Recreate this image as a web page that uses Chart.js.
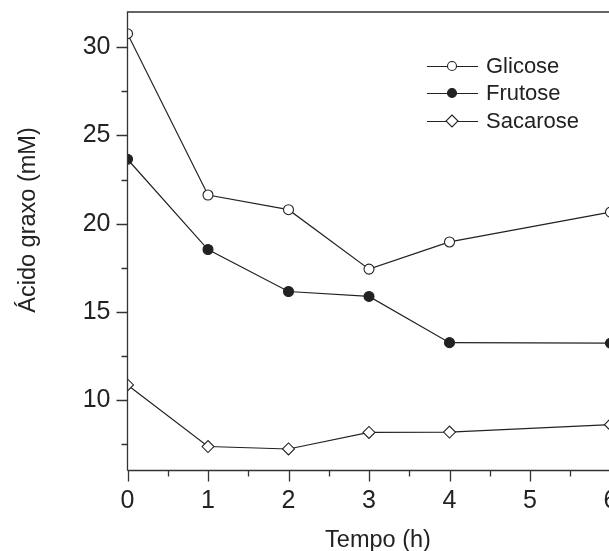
<!DOCTYPE html>
<html>
<head>
<meta charset="utf-8">
<script src="https://cdn.jsdelivr.net/npm/chart.js@4/dist/chart.umd.min.js"></script>
<style>
  html, body { margin: 0; padding: 0; background: #fff; overflow: hidden; }
  #wrap { width: 640px; height: 551px; position: relative; }
</style>
</head>
<body>
<div id="wrap"><canvas id="chart" width="640" height="551"></canvas></div>
<script>
// data
const tempo = [0, 1, 2, 3, 4, 6];
const glicose = [30.77, 21.62, 20.79, 17.42, 18.96, 20.65];
const frutose = [23.65, 18.53, 16.15, 15.87, 13.25, 13.22];
const sacarose = [10.85, 7.36, 7.22, 8.16, 8.18, 8.6];

const xTicks = [0, 1, 2, 3, 4, 5, 6];
const xMinor = [0.5, 1.5, 2.5, 3.5, 4.5, 5.5];
const yTicks = [10, 15, 20, 25, 30];
const yMinor = [7.5, 12.5, 17.5, 22.5, 27.5];

const seriesNames = ["Glicose", "Frutose", "Sacarose"];
const FONT = "'Liberation Sans', Arial, sans-serif";
const INK = "#222";

function toPoints(ys) {
  return ys.map((y, i) => ({ x: tempo[i], y: y }));
}

// frame, minor ticks, axis titles and the legend
const decorations = {
  id: "decorations",
  afterDraw(chart) {
    const ctx = chart.ctx;
    const a = chart.chartArea;
    const xs = chart.scales.x;
    const ys = chart.scales.y;
    ctx.save();
    ctx.strokeStyle = "#333";
    ctx.lineWidth = 1.3;
    ctx.beginPath();
    ctx.moveTo(a.left, a.bottom);
    ctx.lineTo(a.left, a.top);
    ctx.lineTo(a.right + 40, a.top);
    ctx.moveTo(a.left, a.bottom);
    ctx.lineTo(a.right + 40, a.bottom);
    // major ticks
    xTicks.forEach(v => {
      const px = Math.round(xs.getPixelForValue(v)) + 0.5;
      ctx.moveTo(px, a.bottom);
      ctx.lineTo(px, a.bottom + 11);
    });
    yTicks.forEach(v => {
      const py = Math.round(ys.getPixelForValue(v)) + 0.5;
      ctx.moveTo(a.left, py);
      ctx.lineTo(a.left - 11, py);
    });
    // minor ticks
    xMinor.forEach(v => {
      const px = Math.round(xs.getPixelForValue(v)) + 0.5;
      ctx.moveTo(px, a.bottom);
      ctx.lineTo(px, a.bottom + 6);
    });
    yMinor.forEach(v => {
      const py = Math.round(ys.getPixelForValue(v)) + 0.5;
      ctx.moveTo(a.left, py);
      ctx.lineTo(a.left - 6, py);
    });
    ctx.stroke();

    // axis titles
    ctx.fillStyle = INK;
    ctx.font = "23.5px " + FONT;
    ctx.textAlign = "center";
    ctx.textBaseline = "alphabetic";
    ctx.fillText("Tempo (h)", 378, 547);
    ctx.save();
    ctx.translate(35, 220);
    ctx.rotate(-Math.PI / 2);
    ctx.fillText("Ácido graxo (mM)", 0, 0);
    ctx.restore();

    // legend
    const rows = [66, 93, 121];
    chart.data.datasets.forEach((ds, i) => {
      const y = rows[i];
      ctx.strokeStyle = INK;
      ctx.lineWidth = 1.2;
      ctx.beginPath();
      ctx.moveTo(427, y + 0.5);
      ctx.lineTo(478, y + 0.5);
      ctx.stroke();
      ctx.lineWidth = 1.1;
      ctx.fillStyle = ds.pointBackgroundColor;
      ctx.beginPath();
      if (ds.pointStyle === "rectRot") {
        ctx.moveTo(452, y - 6);
        ctx.lineTo(458, y);
        ctx.lineTo(452, y + 6);
        ctx.lineTo(446, y);
        ctx.closePath();
      } else {
        ctx.arc(452, y, 4.5, 0, Math.PI * 2);
      }
      ctx.fill();
      ctx.stroke();
      ctx.fillStyle = INK;
      ctx.textAlign = "left";
      ctx.textBaseline = "middle";
      ctx.font = "22px " + FONT;
      ctx.fillText(seriesNames[i], 486, y + 1);
    });
    ctx.restore();
  }
};

const commonLine = {
  borderColor: INK,
  borderWidth: 1.2,
  pointBorderColor: INK,
  pointBorderWidth: 1.1,
  tension: 0,
  fill: false
};

new Chart(document.getElementById("chart"), {
  type: "line",
  data: {
    datasets: [
      Object.assign({ label: seriesNames[0], data: toPoints(glicose), pointStyle: "circle", pointRadius: 5, pointBackgroundColor: "#fff" }, commonLine),
      Object.assign({ label: seriesNames[1], data: toPoints(frutose), pointStyle: "circle", pointRadius: 5, pointBackgroundColor: INK }, commonLine),
      Object.assign({ label: seriesNames[2], data: toPoints(sacarose), pointStyle: "rectRot", pointRadius: 6, pointBackgroundColor: "#fff" }, commonLine)
    ]
  },
  options: {
    responsive: false,
    animation: false,
    events: [],
    layout: { padding: { top: 12, right: 29.5, left: 0, bottom: 0 } },
    plugins: { legend: { display: false }, tooltip: { enabled: false } },
    scales: {
      x: {
        type: "linear",
        min: 0,
        max: 6,
        afterBuildTicks: s => { s.ticks = xTicks.map(v => ({ value: v })); },
        afterFit: s => { s.height = 80.5; s.paddingLeft = 0; s.paddingRight = 0; },
        border: { display: false },
        grid: { display: false },
        ticks: { color: INK, font: { family: FONT, size: 25 }, padding: 8, maxRotation: 0 }
      },
      y: {
        min: 6,
        max: 32,
        afterBuildTicks: s => { s.ticks = yTicks.map(v => ({ value: v })); },
        afterFit: s => { s.width = 127.5; s.paddingTop = 0; s.paddingBottom = 0; },
        border: { display: false },
        grid: { display: false },
        ticks: { color: INK, font: { family: FONT, size: 25 }, padding: 9 }
      }
    }
  },
  plugins: [decorations]
});
</script>
</body>
</html>
